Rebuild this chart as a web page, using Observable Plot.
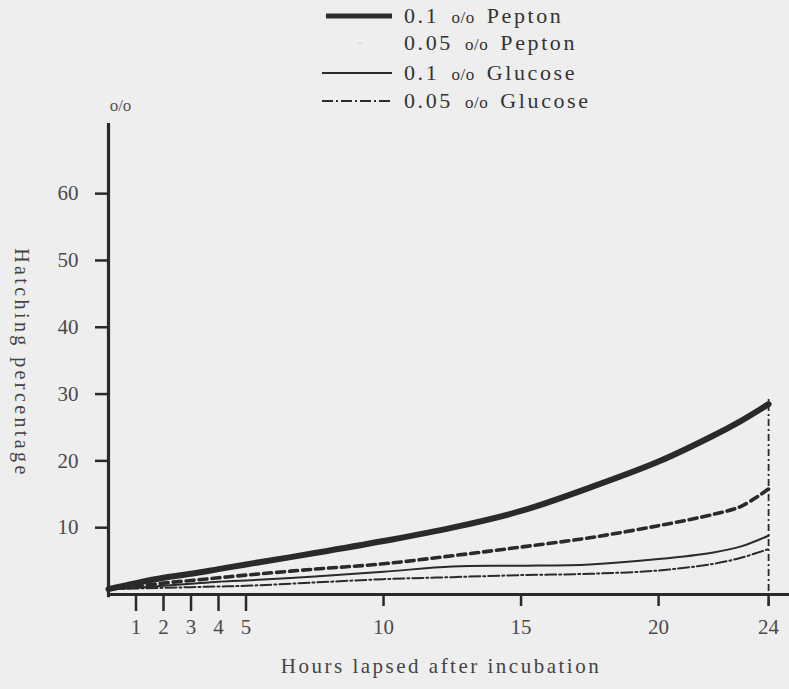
<!DOCTYPE html>
<html>
<head>
<meta charset="utf-8">
<script src="https://cdn.jsdelivr.net/npm/d3@7"></script>
<script src="https://cdn.jsdelivr.net/npm/@observablehq/plot@0.6"></script>
<style>
  html, body { margin: 0; padding: 0; background: #eeeeee; }
  #wrap { position: relative; width: 789px; height: 689px; overflow: hidden; }
  #legend { position: relative; height: 95px; z-index: 2; }
  .row { position: absolute; left: 318px; height: 26px; display: flex; align-items: center;
         font-family: "Liberation Serif", "DejaVu Serif", serif; font-size: 22px; color: #333;
         letter-spacing: 2.6px; word-spacing: 4px; white-space: nowrap; }
  .row svg { width: 78px; height: 12px; margin-right: 8px; }
  .pc { font-size: 17px; letter-spacing: 0.5px; }
</style>
</head>
<body>
<div id="wrap">
  <div id="legend"></div>
  <div id="chart"></div>
</div>
<script>
// ---- data ----
const hours      = [0,   1,   2,   3,   4,   5,   7.5, 10,  12.5, 15,   17.5, 20,   22,   23,   24];
const pepton01   = [0.8, 1.7, 2.5, 3.1, 3.8, 4.5, 6.2, 8.0, 10.0, 12.5, 16.0, 19.9, 23.8, 26.0, 28.5];
const pepton005  = [0.8, 1.2, 1.7, 2.1, 2.5, 2.9, 3.8, 4.6, 5.8,  7.1,  8.5,  10.3, 12.0, 13.2, 15.8];
const glucose01  = [0.8, 1.0, 1.3, 1.6, 1.9, 2.1, 2.7, 3.4, 4.2,  4.3,  4.5,  5.3,  6.3,  7.2,  8.8];
const glucose005 = [0.8, 0.9, 1.0, 1.1, 1.2, 1.3, 1.8, 2.3, 2.6,  2.9,  3.1,  3.6,  4.6,  5.5,  6.8];

const seriesNames = ["0.1 o/o Pepton", "0.05 o/o Pepton", "0.1 o/o Glucose", "0.05 o/o Glucose"];
const xTicksSmall = [1, 2, 3, 4, 5];
const xTicksLarge = [10, 15, 20, 24];
const yTicks = [10, 20, 30, 40, 50, 60];
const xDomain = [0, 24.76];
const yDomain = [0, 70.5];
const markerHour = [24];
const markerTop = 29.5;
const xLabel = "Hours lapsed after incubation";
const yLabel = "Hatching percentage";
const unitLabel = "o/o";

// ---- styles ----
const ink = "#2a2a2a";
const styles = [
  {strokeWidth: 6, dash: null},
  {strokeWidth: 3.6, dash: "8,5"},
  {strokeWidth: 2, dash: null},
  {strokeWidth: 2, dash: "11,3,2,3"}
];
const allValues = [pepton01, pepton005, glucose01, glucose005];
const tidy = [];
allValues.forEach((vals, si) => vals.forEach((v, i) => tidy.push({series: seriesNames[si], h: hours[i], v})));

// ---- legend ----
const legendTops = [3, 30, 60, 88];
const legend = document.getElementById("legend");
seriesNames.forEach((name, i) => {
  const row = document.createElement("div");
  row.className = "row";
  row.style.top = legendTops[i] + "px";
  const st = styles[i];
  let sw;
  if (i === 1) {
    sw = `<svg viewBox="0 0 78 12"><line x1="40" x2="44" y1="6" y2="6" stroke="#d8d8d8" stroke-width="1.5"/></svg>`;
  } else {
    sw = `<svg viewBox="0 0 78 12"><line x1="${i===0?8:4}" x2="74" y1="6" y2="6" stroke="${ink}" stroke-width="${i===0?5:1.8}" ${st.dash?`stroke-dasharray="${st.dash}"`:""}/></svg>`;
  }
  const parts = name.split(" ");
  row.innerHTML = sw + `<span>${parts[0]} <span class="pc">${parts[1]}</span> ${parts[2]}</span>`;
  legend.appendChild(row);
});

// ---- chart ----
const lineMarks = seriesNames.map((name, i) =>
  Plot.line(tidy.filter(d => d.series === name), {
    x: "h", y: "v", curve: "catmull-rom",
    stroke: ink, strokeWidth: styles[i].strokeWidth,
    strokeDasharray: styles[i].dash, strokeLinecap: "round"
  })
);

const chart = Plot.plot({
  width: 789,
  height: 594,
  marginLeft: 108,
  marginRight: 0,
  marginTop: 28,
  marginBottom: 95,
  style: {background: "#eeeeee", fontFamily: "Liberation Serif, DejaVu Serif, serif", fontSize: "21px", color: "#4a4a4a", overflow: "visible"},
  x: {domain: xDomain},
  y: {domain: yDomain},
  marks: [
    Plot.ruleX(markerHour, {y1: -1.8, y2: markerTop, stroke: ink, strokeWidth: 1.8, strokeDasharray: "7,3,2,3"}),
    ...lineMarks,
    Plot.ruleY([0], {stroke: ink, strokeWidth: 3}),
    Plot.ruleX([0], {y1: -0.5, y2: yDomain[1], stroke: ink, strokeWidth: 3.2}),
    Plot.axisY(yTicks, {tickSize: 13, tickPadding: 17, strokeWidth: 2.5, stroke: ink, label: null, fontSize: 21}),
    Plot.axisX(xTicksSmall, {tickSize: 17, tickPadding: 8, strokeWidth: 2.5, stroke: ink, label: null, fontSize: 21}),
    Plot.axisX(xTicksLarge, {tickSize: 12, tickPadding: 13, strokeWidth: 2.5, stroke: ink, label: null, fontSize: 21}),
    Plot.text([unitLabel], {x: 0, y: yDomain[1], dx: 12, dy: -18, fontSize: 17, fill: "#555", text: d => d}),
    Plot.text([yLabel], {frameAnchor: "left", textAnchor: "middle", dx: -87, dy: 4, rotate: 90, fontSize: 20, fill: "#444", text: d => d}),
    Plot.text([xLabel], {frameAnchor: "bottom", dx: -8, dy: 78, fontSize: 21, fill: "#444", text: d => d})
  ]
});
d3.select(chart).selectAll("text")
  .filter(function () { return this.textContent === yLabel; })
  .style("letter-spacing", "3.4px");
d3.select(chart).selectAll("text")
  .filter(function () { return this.textContent === xLabel; })
  .style("letter-spacing", "2.5px");
document.getElementById("chart").appendChild(chart);
</script>
</body>
</html>
